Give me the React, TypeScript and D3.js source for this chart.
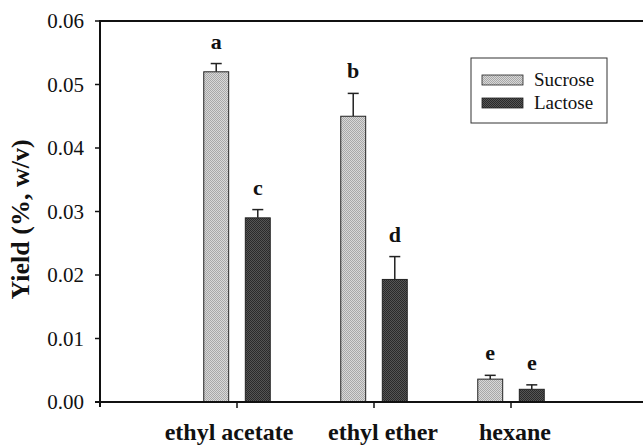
import React from "react";
import * as d3 from "d3";

const categories = ["ethyl acetate", "ethyl ether", "hexane"];
const series = ["Sucrose", "Lactose"];
const sucroseValues = [0.052, 0.045, 0.0036];
const sucroseErrors = [0.0013, 0.0036, 0.0006];
const lactoseValues = [0.029, 0.0193, 0.002];
const lactoseErrors = [0.0013, 0.0036, 0.0007];
const sucroseLetters = ["a", "b", "e"];
const lactoseLetters = ["c", "d", "e"];
const yTicks = [0, 0.01, 0.02, 0.03, 0.04, 0.05, 0.06];

const W = 643;
const H = 445;
const left = 100;
const top = 21;
const bottom = 402;
// small horizontal nudges of the category captions (layout only)
const captionNudge = [-8, 9, 4];

export default function App() {
  const y = d3.scaleLinear().domain([0, 0.06]).range([bottom, top]);
  const x = d3.scaleLinear().domain([0, 4]).range([left, 648]);
  const inner = d3.scaleBand().domain(series).range([-33.25, 33.25]).paddingInner(0.4);
  const bw = inner.bandwidth();
  const fmt = d3.format(".2f");
  const serif = "Liberation Serif, Times New Roman, DejaVu Serif, serif";
  const ts = { fontFamily: serif };

  const data = [
    { name: "Sucrose", values: sucroseValues, errors: sucroseErrors, letters: sucroseLetters, fill: "url(#patS)" },
    { name: "Lactose", values: lactoseValues, errors: lactoseErrors, letters: lactoseLetters, fill: "url(#patL)" },
  ];

  return (
    <svg width={W} height={H} style={{ position: "absolute", left: 0, top: 0, background: "#fff" }}>
      <defs>
        <pattern id="patS" width="2" height="2" patternUnits="userSpaceOnUse">
          <rect width="2" height="2" fill="#d8d8d8" />
          <rect width="1" height="1" fill="#a8a8a8" />
          <rect x="1" y="1" width="1" height="1" fill="#a8a8a8" />
        </pattern>
        <pattern id="patL" width="2" height="2" patternUnits="userSpaceOnUse">
          <rect width="2" height="2" fill="#555" />
          <rect width="1" height="1" fill="#2a2a2a" />
          <rect x="1" y="1" width="1" height="1" fill="#2a2a2a" />
        </pattern>
      </defs>
      <rect width={W} height={H} fill="#fff" />

      {data.map((s) =>
        categories.map((c, i) => {
          const cx = x(i + 1) + (inner(s.name) as number);
          const v = s.values[i];
          const e = s.errors[i];
          const midX = cx + bw / 2;
          return (
            <g key={s.name + c}>
              <line x1={midX} x2={midX} y1={y(v)} y2={y(v + e)} stroke="#222" strokeWidth={1.5} />
              <line x1={midX - 5.5} x2={midX + 5.5} y1={y(v + e)} y2={y(v + e)} stroke="#222" strokeWidth={1.5} />
              <rect x={cx} y={y(v)} width={bw} height={bottom - y(v)} fill={s.fill} stroke="#222" strokeWidth={1} />
              <text x={midX} y={y(v + e) - 15} textAnchor="middle" fontWeight="bold" fontSize={22} fill="#111" style={ts}>
                {s.letters[i]}
              </text>
            </g>
          );
        })
      )}

      <line x1={left} x2={W} y1={top} y2={top} stroke="#111" strokeWidth={2} />
      <line x1={left} x2={left} y1={top - 1} y2={bottom + 5} stroke="#111" strokeWidth={2} />
      <line x1={left - 5} x2={W} y1={bottom} y2={bottom} stroke="#111" strokeWidth={2} />

      {yTicks.map((t) => (
        <g key={t}>
          <line x1={left - 5} x2={left} y1={y(t)} y2={y(t)} stroke="#111" strokeWidth={1.5} />
          <text x={84} y={y(t)} dy="0.34em" textAnchor="end" fontSize={21} fill="#111" style={ts}>
            {fmt(t)}
          </text>
        </g>
      ))}

      {categories.map((c, i) => (
        <g key={c}>
          <line x1={x(i + 1)} x2={x(i + 1)} y1={bottom} y2={bottom + 6} stroke="#111" strokeWidth={1.5} />
          <text x={x(i + 1) + captionNudge[i]} y={440} textAnchor="middle" fontWeight="bold" fontSize={24} fill="#111" style={ts}>
            {c}
          </text>
        </g>
      ))}

      <text transform={`translate(29, ${(top + bottom) / 2 + 8}) rotate(-90)`} textAnchor="middle" fontWeight="bold" fontSize={26} fill="#111" style={ts}>
        Yield (%, w/v)
      </text>

      <rect x={471} y={58} width={136} height={65} fill="#fff" stroke="#333" strokeWidth={1} />
      {data.map((s, i) => (
        <g key={s.name}>
          <rect x={482} y={75 + i * 23} width={41} height={10} fill={s.fill} stroke="#222" strokeWidth={0.8} />
          <text x={534} y={86 + i * 23} fontSize={19} fill="#111" style={ts}>
            {s.name}
          </text>
        </g>
      ))}
    </svg>
  );
}
